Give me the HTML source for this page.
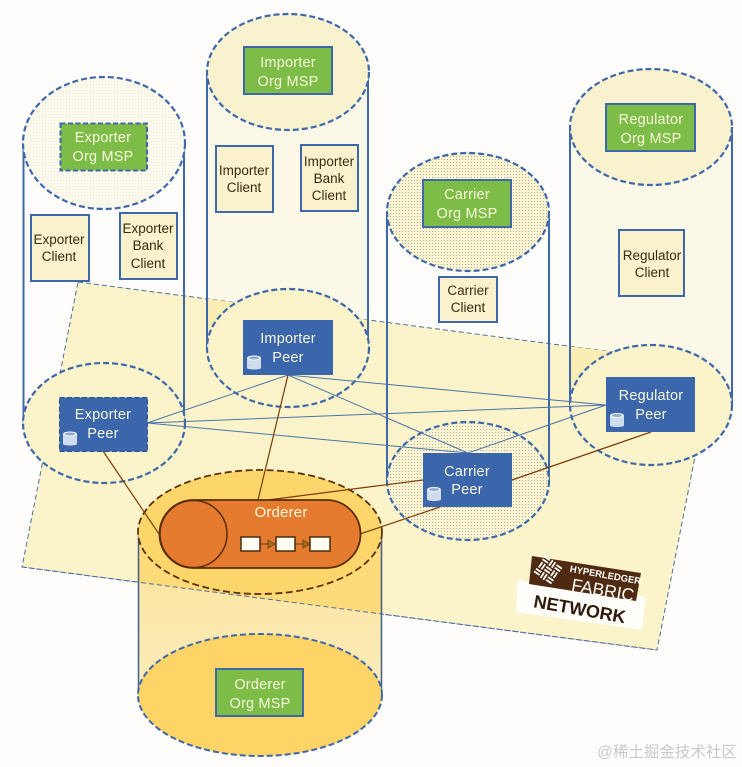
<!DOCTYPE html>
<html><head><meta charset="utf-8"><style>
html,body{margin:0;padding:0;background:#fefdfc}
svg{display:block}
text{font-family:"Liberation Sans","Noto Sans CJK SC",sans-serif;text-anchor:middle}
.w{fill:#f8f8dc;font-size:14.500px;letter-spacing:.2px}
.d{fill:#3a2a12;font-size:13.500px}
.cyl{fill:none;stroke:#3f68ab;stroke-width:2}
.e{stroke:#3f68ab;stroke-width:2.200;stroke-dasharray:6 3}
.p{fill:#3b66ab}
.m{fill:#7dbd47}
.c{fill:#f9f2cd;stroke:#3f68ab;stroke-width:2}
.bl{stroke:#4a74a8;stroke-width:1;fill:none}
.or{stroke:#7a3c08;stroke-width:1.200;fill:none}
</style></head><body>
<svg width="742" height="767" viewBox="0 0 742 767" xmlns="http://www.w3.org/2000/svg">
<defs>
<pattern id="dot" width="3" height="3" patternUnits="userSpaceOnUse"><rect width="3" height="3" fill="#fbf4d2"/><rect width="1" height="1" fill="#b0b196"/></pattern>
<pattern id="dotl" width="3" height="3" patternUnits="userSpaceOnUse"><rect width="3" height="3" fill="#fbf9ec"/><rect width="1" height="1" fill="#f0eddb"/></pattern>
<linearGradient id="og" x1="0" y1="0" x2="0" y2="1"><stop offset="0" stop-color="#fce39a"/><stop offset="1" stop-color="#fdf0c6"/></linearGradient>
<clipPath id="plane"><polygon points="78,282 713,365 657,650 22,567"/></clipPath>
<symbol id="db" viewBox="0 0 14 16"><path d="M0 3V13C0 15 14 15 14 13V3Z" fill="#cfdcee"/><ellipse cx="7" cy="3" rx="7" ry="2.600" fill="#e6edf6"/><ellipse cx="7" cy="3" rx="5" ry="1.400" fill="#8ea6cb"/></symbol>
</defs>
<rect width="742" height="767" fill="#fefdfc"/>

<!-- filled cylinder bodies -->
<rect x="207" y="72" width="161" height="276" fill="#fbf8e8"/>
<rect x="570" y="127" width="162" height="278" fill="#fbf8e8"/>

<polygon points="78,282 713,365 657,650 22,567" fill="#fbf3c9" stroke="#4d6f9c" stroke-width="1" stroke-dasharray="5 3"/>
<g clip-path="url(#plane)">
<rect x="207" y="72" width="161" height="276" fill="#fbeeb5"/>
<rect x="570" y="127" width="162" height="278" fill="#fbeeb5"/>
</g>

<!-- cylinder sides -->
<path class="cyl" d="M23.500 143V423M184 143V423M207 72V348M368 72V348M387 212V481M549 212V481M570 127V405M732 127V405"/>

<!-- peer ellipses -->
<ellipse class="e" cx="104" cy="423" rx="81" ry="60" fill="#fbf3c9"/>
<ellipse class="e" cx="288" cy="348" rx="81" ry="59" fill="#fbf3c9"/>
<ellipse class="e" cx="468" cy="481" rx="81" ry="59" fill="url(#dot)"/>
<ellipse class="e" cx="651" cy="405" rx="81" ry="60" fill="#fbf3c9"/>
<path class="bl" d="M147 423L288 375L606 405L147 423L468 453L606 405M288 375L468 453"/>

<!-- top ellipses -->
<ellipse class="e" cx="104" cy="143" rx="81" ry="66" fill="url(#dotl)"/>
<ellipse class="e" cx="288" cy="72" rx="81" ry="58" fill="#f8f2cf"/>
<ellipse class="e" cx="468" cy="212" rx="81" ry="59" fill="url(#dot)"/>
<ellipse class="e" cx="651" cy="127" rx="81" ry="58" fill="#f8f2cf"/>

<!-- orderer cylinder -->
<path d="M138 530V695A122 61 0 0 0 382 695V530Z" fill="url(#og)"/>
<g clip-path="url(#plane)"><path d="M138 530V695H382V530Z" fill="#fdda7a"/></g>
<path d="M22 567L657 650" stroke="#4d6f9c" stroke-width="1" stroke-dasharray="5 3" fill="none"/>
<path d="M138.500 530V695M381.500 530V695" stroke="#3f5f8f" stroke-width="1.500" fill="none"/>
<ellipse cx="260" cy="695" rx="122" ry="61" fill="#fdd465" stroke="#3f68ab" stroke-width="2" stroke-dasharray="6 3"/>
<ellipse cx="260" cy="532" rx="122" ry="62" fill="#fdd66b" stroke="#5a3208" stroke-width="1.800" stroke-dasharray="7 3.500"/>

<!-- orange lines -->
<path class="or" d="M103 451L159 534M288 375L258 500M423 480L268 500M440 507L360 534M651 432L512 480"/>

<!-- pill -->
<rect x="159.500" y="500" width="201" height="68" rx="34" fill="#e57b2e" stroke="#5a2e0a" stroke-width="1.800"/>
<circle cx="193.500" cy="534" r="33.500" fill="#e57b2e" stroke="#5a2e0a" stroke-width="1.500"/>
<text x="281" y="517" class="w" style="font-size:15px">Orderer</text>
<rect x="241" y="537" width="19" height="14" fill="#fffdf4" stroke="#4a2a0a" stroke-width="1.500"/>
<rect x="276" y="537" width="19" height="14" fill="#fffdf4" stroke="#4a2a0a" stroke-width="1.500"/>
<rect x="310" y="537" width="20" height="14" fill="#fffdf4" stroke="#4a2a0a" stroke-width="1.500"/>
<path d="M260 544H270M295 544H305" stroke="#5a3a10" stroke-width="1"/>
<path d="M268 540L275 544L268 548ZM303 540L310 544L303 548Z" fill="#a86a20" stroke="#5a3a10" stroke-width=".7"/>

<!-- peers -->
<rect class="p" x="59.500" y="397.500" width="88" height="54" stroke="#274f8f" stroke-dasharray="5 2.500"/>
<text x="103" y="419" class="w">Exporter</text><text x="103" y="438" class="w">Peer</text>
<use href="#db" x="63" y="431" width="14" height="16"/>
<rect class="p" x="243" y="320" width="90" height="55"/>
<text x="288" y="343" class="w">Importer</text><text x="288" y="362" class="w">Peer</text>
<use href="#db" x="247" y="355" width="14" height="16"/>
<rect class="p" x="423" y="453" width="89" height="54"/>
<text x="467" y="476" class="w">Carrier</text><text x="467" y="494" class="w">Peer</text>
<use href="#db" x="427" y="486" width="14" height="17"/>
<rect class="p" x="606" y="377" width="89" height="55"/>
<text x="651" y="400" class="w">Regulator</text><text x="651" y="419" class="w">Peer</text>
<use href="#db" x="610" y="412" width="14" height="17"/>

<!-- MSPs -->
<rect class="m" x="60.500" y="123.500" width="86.500" height="47" stroke="#3f68ab" stroke-width="2" stroke-dasharray="5 2.500"/>
<text x="103" y="142" class="w">Exporter</text><text x="103" y="161" class="w">Org MSP</text>
<rect class="m" x="244" y="47" width="88" height="47" stroke="#3f68ab" stroke-width="2"/>
<text x="288" y="67" class="w">Importer</text><text x="288" y="86" class="w">Org MSP</text>
<rect class="m" x="423" y="180" width="88" height="47" stroke="#3f68ab" stroke-width="2"/>
<text x="467" y="199" class="w">Carrier</text><text x="467" y="218" class="w">Org MSP</text>
<rect class="m" x="606" y="104" width="89" height="47" stroke="#3f68ab" stroke-width="2"/>
<text x="651" y="124" class="w">Regulator</text><text x="651" y="143" class="w">Org MSP</text>
<rect class="m" x="216" y="669" width="87" height="47" stroke="#3f68ab" stroke-width="2"/>
<text x="260" y="689" class="w">Orderer</text><text x="260" y="708" class="w">Org MSP</text>

<!-- clients -->
<rect class="c" x="31" y="215" width="58" height="66"/>
<text x="59" y="244" class="d">Exporter</text><text x="59" y="261" class="d">Client</text>
<rect class="c" x="120" y="213" width="57" height="66"/>
<text x="148" y="233" class="d">Exporter</text><text x="148" y="250" class="d">Bank</text><text x="148" y="268" class="d">Client</text>
<rect class="c" x="216" y="146" width="57" height="66"/>
<text x="244" y="175" class="d">Importer</text><text x="244" y="192" class="d">Client</text>
<rect class="c" x="301" y="145" width="57" height="66"/>
<text x="329" y="166" class="d">Importer</text><text x="329" y="183" class="d">Bank</text><text x="329" y="200" class="d">Client</text>
<rect class="c" x="439" y="277" width="58" height="45"/>
<text x="468" y="295" class="d">Carrier</text><text x="468" y="312" class="d">Client</text>
<rect class="c" x="619" y="230" width="65" height="66"/>
<text x="652" y="260" class="d">Regulator</text><text x="652" y="277" class="d">Client</text>

<!-- logo -->
<polygon points="517,580 646,597 642,630 516,612" fill="#fefdfa"/>
<polygon points="532,556 641,573 636,601 529,584" fill="#4f2a10"/>
<g transform="translate(548,570) rotate(35) scale(.82)" stroke="#fff" stroke-width="2.200" fill="none">
<path d="M-13-11H-5M-13-7H-5M-2-13V-5M2-13V-5M5-11H13M5-7H13M-11-4V4M-7-4V4M-4-2H4M-4 2H4M7-4V4M11-4V4M-13 7H-5M-13 11H-5M-2 5V13M2 5V13M5 7H13M5 11H13"/>
</g>
<g transform="translate(531,557) rotate(10)">
<text x="76.500" y="8" style="font-size:9.500px;fill:#fff;font-weight:bold">HYPERLEDGER</text>
<text x="76.500" y="26" style="font-size:17.500px;fill:#fff">FABRIC</text>
<text x="57" y="49" style="font-size:18px;fill:#2e1a0a;font-weight:bold">NETWORK</text>
</g>

<text x="667" y="757" style="font-size:15.500px;fill:#c9c9c9">@稀土掘金技术社区</text>
</svg>
</body></html>
